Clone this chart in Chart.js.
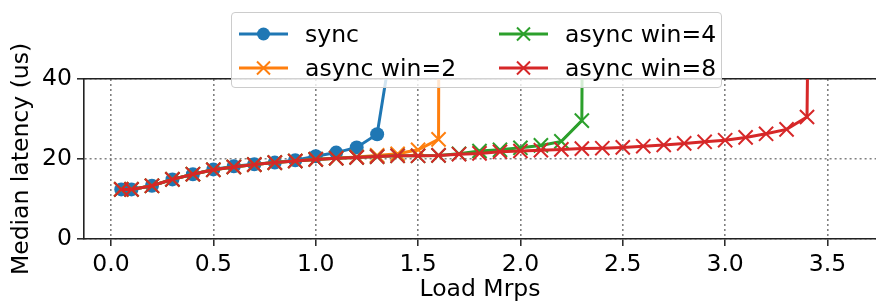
<!DOCTYPE html>
<html>
<head>
<meta charset="utf-8">
<script src="https://cdn.jsdelivr.net/npm/chart.js"></script>
<style>
body{margin:0;background:#fff;}
#wrap{position:relative;width:876px;height:304px;}
#legend{position:absolute;left:231px;top:12px;width:491px;height:76px;box-sizing:border-box;
background:rgba(255,255,255,0.8);border:1px solid #ccc;border-radius:4px;font-family:"DejaVu Sans";font-size:23.5px;color:#000;}
.item{position:absolute;height:28px;display:flex;align-items:center;white-space:nowrap;}
.item svg{margin-right:17px;}
</style>
</head>
<body>
<div id="wrap">
<canvas id="c"></canvas>
<div id="legend"></div>
</div>
<script>
// data (load in Mrps, median latency in us)
const syncLoad=[0.05,0.1,0.2,0.3,0.4,0.5,0.6,0.7,0.8,0.9,1.0,1.1,1.2,1.3,1.4];
const syncLat=[12.4,12.4,13.3,14.9,16.2,17.4,18.2,18.7,19.1,19.7,20.7,21.6,22.9,26.2,58];

const win2Load=[0.05,0.1,0.2,0.3,0.4,0.5,0.6,0.7,0.8,0.9,1.0,1.1,1.2,1.3,1.4,1.5,1.6,1.7];
const win2Lat=[12.4,12.4,13.3,14.9,16.2,17.3,18.0,18.6,19.1,19.5,19.9,20.2,20.5,20.9,21.3,22.3,24.9,2000];

const win4Load=[0.05,0.1,0.2,0.3,0.4,0.5,0.6,0.7,0.8,0.9,1.0,1.1,1.2,1.3,1.4,1.5,1.6,1.7,1.8,1.9,2.0,2.1,2.2,2.3,2.4];
const win4Lat=[12.4,12.4,13.3,14.9,16.2,17.3,18.0,18.6,19.1,19.5,19.9,20.2,20.4,20.6,20.8,20.8,20.9,21.3,22.0,22.3,22.8,23.4,24.4,29.6,1000];

const win8Load=[0.05,0.1,0.2,0.3,0.4,0.5,0.6,0.7,0.8,0.9,1.0,1.1,1.2,1.3,1.4,1.5,1.6,1.7,1.8,1.9,2.0,2.1,2.2,2.3,2.4,2.5,2.6,2.7,2.8,2.9,3.0,3.1,3.2,3.3,3.4,3.5];
const win8Lat=[12.4,12.4,13.3,14.9,16.2,17.3,18.0,18.6,19.1,19.5,19.9,20.2,20.4,20.6,20.8,20.8,20.9,21.2,21.4,21.8,22.0,22.2,22.4,22.6,22.7,22.9,23.2,23.5,23.9,24.3,24.7,25.4,26.3,27.4,30.5,500];

const xTicks=[0,0.5,1.0,1.5,2.0,2.5,3.0,3.5];
const yTicks=[0,20,40];

const FONT={family:"DejaVu Sans",size:23.5};
const pts=(xs,ys)=>xs.map((x,i)=>({x:x,y:ys[i]}));

function series(label,xs,ys,color,style,order){
  const isX=style==="crossRot";
  return {label:label,data:pts(xs,ys),borderColor:color,backgroundColor:color,borderWidth:3,
    pointStyle:style,pointRadius:isX?10:7,pointHoverRadius:isX?10:7,pointBorderWidth:isX?2:0,
    pointBackgroundColor:color,pointBorderColor:color,tension:0,order:order};
}

const datasets=[
  series("sync",syncLoad,syncLat,"#1f77b4","circle",3),
  series("async win=2",win2Load,win2Lat,"#ff7f0e","crossRot",2),
  series("async win=4",win4Load,win4Lat,"#2ca02c","crossRot",1),
  series("async win=8",win8Load,win8Lat,"#d62728","crossRot",0)
];

const GRID="#808080", SPINE="#222";
const noPad=s=>{s.paddingLeft=0;s.paddingRight=0;};

new Chart(document.getElementById("c"),{
  type:"line",
  data:{datasets:datasets},
  options:{
    responsive:true,maintainAspectRatio:false,devicePixelRatio:1,animation:false,
    layout:{padding:0,autoPadding:false},
    plugins:{legend:{display:false},tooltip:{enabled:false}},
    scales:{
      x:{type:"linear",position:"bottom",min:-0.132,max:3.737,
        afterBuildTicks:s=>{s.ticks=xTicks.map(v=>({value:v}));},
        afterFit:s=>{s.height=65;noPad(s);},
        ticks:{color:"#000",font:FONT,padding:5,maxRotation:0,callback:v=>v.toFixed(1)},
        grid:{color:GRID,lineWidth:1.6,tickLength:7,tickColor:SPINE,tickWidth:1.5,tickBorderDash:[]},
        border:{display:true,color:SPINE,width:1.6,dash:[2,3]},
        title:{display:true,text:"Load Mrps",color:"#000",font:FONT,padding:{top:0,bottom:0}}
      },
      x2:{type:"linear",position:"top",min:-0.132,max:3.737,
        afterFit:s=>{s.height=79;noPad(s);},
        ticks:{display:false},grid:{display:false},
        border:{display:true,color:SPINE,width:1.6}
      },
      y:{type:"linear",min:0,max:40,
        afterBuildTicks:s=>{s.ticks=yTicks.map(v=>({value:v}));},
        afterFit:s=>{s.width=84;s.paddingTop=0;s.paddingBottom=0;},
        ticks:{color:"#000",font:FONT,padding:5},
        grid:{color:GRID,lineWidth:1.6,tickLength:7,tickColor:SPINE,tickWidth:1.5,tickBorderDash:[]},
        border:{display:true,color:SPINE,width:1.6,dash:[2,3]},
        title:{display:true,text:"Median latency (us)",color:"#000",font:FONT,padding:{top:8,bottom:0}}
      }
    }
  }
});

// matplotlib-style legend, two columns
const legendPos=[[7,74,21],[7,74,55],[267,333,21],[267,333,55]];
const lg=document.getElementById("legend");
datasets.forEach((d,i)=>{
  const p=legendPos[i];
  const c=d.borderColor;
  const mark=d.pointStyle==="circle"
    ?`<circle cx="24.5" cy="10" r="6.5" fill="${c}"/>`
    :`<path d="M18 3.5L31 16.5M31 3.5L18 16.5" stroke="${c}" stroke-width="2"/>`;
  const el=document.createElement("div");
  el.className="item";
  el.style.left=p[0]+"px";
  el.style.top=(p[2]-14)+"px";
  el.innerHTML=`<svg width="49" height="20"><line x1="0" y1="10" x2="49" y2="10" stroke="${c}" stroke-width="3"/>${mark}</svg><span>${d.label}</span>`;
  lg.appendChild(el);
});
</script>
</body>
</html>
